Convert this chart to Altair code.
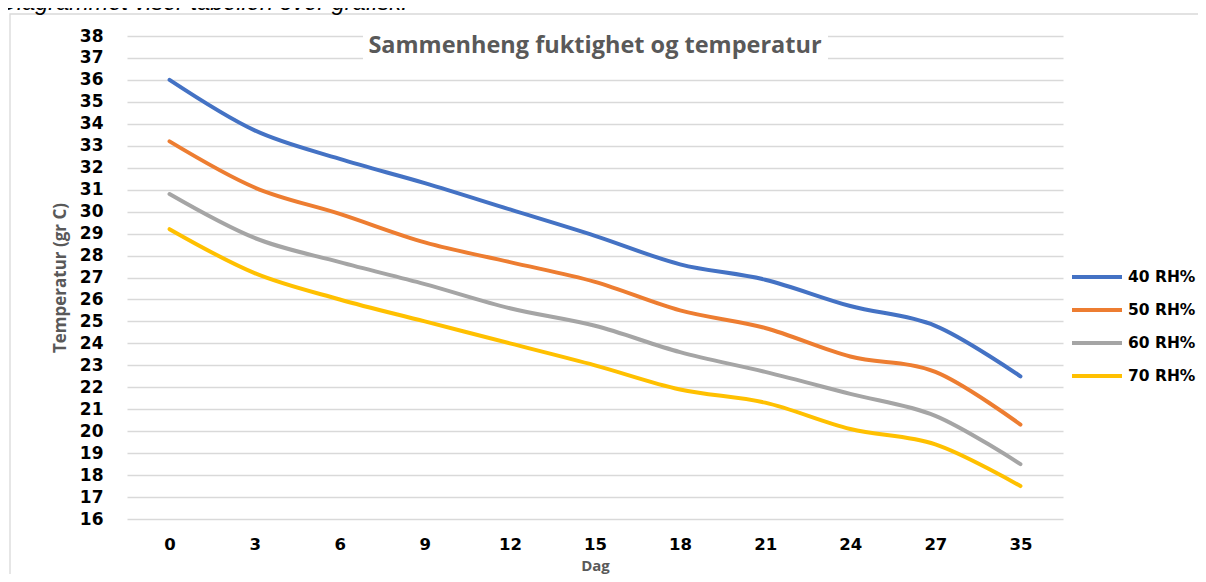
import altair as alt
import pandas as pd

days = ["0", "3", "6", "9", "12", "15", "18", "21", "24", "27", "35"]
rh40 = [36.0, 33.7, 32.4, 31.3, 30.1, 28.9, 27.6, 26.9, 25.7, 24.8, 22.5]
rh50 = [33.2, 31.1, 29.9, 28.6, 27.7, 26.8, 25.5, 24.7, 23.4, 22.7, 20.3]
rh60 = [30.8, 28.8, 27.7, 26.7, 25.6, 24.8, 23.6, 22.7, 21.7, 20.7, 18.5]
rh70 = [29.2, 27.2, 26.0, 25.0, 24.0, 23.0, 21.9, 21.3, 20.1, 19.4, 17.5]
series_names = ["40 RH%", "50 RH%", "60 RH%", "70 RH%"]
series_colors = ["#4472C4", "#ED7D31", "#A5A5A5", "#FFC000"]
y_ticks = list(range(16, 39))

title_text = "Sammenheng fuktighet og temperatur"
caption_text = "Diagrammet viser tabellen over grafisk."

rows = []
for name, vals in zip(series_names, [rh40, rh50, rh60, rh70]):
    for d, v in zip(days, vals):
        rows.append({"Dag": d, "Temp": v, "Serie": name})
df = pd.DataFrame(rows)

one = pd.DataFrame({"t": [title_text]})
cap = pd.DataFrame({"t": [caption_text]})

frame = alt.Chart(one).mark_rect(
    fillOpacity=0, stroke="#d9d9d9", strokeWidth=1.3
).encode(
    x=alt.value(-117), x2=alt.value(1078), y=alt.value(-22), y2=alt.value(570)
)

caption = alt.Chart(cap).mark_text(
    font="Liberation Sans", fontStyle="italic", fontSize=23.5, color="#000000",
    align="left", baseline="alphabetic"
).encode(x=alt.value(-127), y=alt.value(-26), text="t:N")

lines = alt.Chart(df).mark_line(
    interpolate="cardinal", strokeWidth=4, strokeCap="round"
).encode(
    x=alt.X("Dag:O", sort=days, title="Dag",
            axis=alt.Axis(labelAngle=0, grid=False, domain=False, ticks=False,
                          labelPadding=17, labelFont="DejaVu Sans",
                          labelFontWeight="bold", labelFontSize=16.5,
                          labelColor="#000000", titleFont="Open Sans",
                          titleFontWeight="bold", titleFontSize=15,
                          titleColor="#595959", titleY=51,
                          titleBaseline="alphabetic")),
    y=alt.Y("Temp:Q", title="Temperatur (gr C)",
            scale=alt.Scale(domain=[16, 38], nice=False, zero=False),
            axis=alt.Axis(values=y_ticks, grid=True, gridColor="#d9d9d9",
                          gridWidth=1.3, domain=False, ticks=False,
                          labelPadding=24, labelFont="DejaVu Sans",
                          labelFontWeight="bold", labelFontSize=17,
                          labelColor="#000000", titleFont="Open Sans",
                          titleFontWeight="bold", titleFontSize=17,
                          titleColor="#595959", titleX=-67, titleY=241.5,
                          titleBaseline="middle", titleAlign="center",
                          titleAngle=270)),
    color=alt.Color("Serie:N",
                    scale=alt.Scale(domain=series_names, range=series_colors),
                    legend=alt.Legend(orient="none", legendX=943, legendY=231,
                                      title=None, symbolType="stroke",
                                      symbolSize=2500, symbolStrokeWidth=4,
                                      clipHeight=20, rowPadding=13,
                                      labelFont="DejaVu Sans",
                                      labelFontWeight="bold",
                                      labelFontSize=15.5, labelColor="#000000",
                                      labelOffset=4)),
)

title_box = alt.Chart(one).mark_rect(fill="#ffffff", stroke=None).encode(
    x=alt.value(236), x2=alt.value(701), y=alt.value(-9), y2=alt.value(30)
)
title = alt.Chart(one).mark_text(
    font="Open Sans", fontWeight="bold", fontSize=23.5, color="#595959",
    align="center", baseline="middle"
).encode(x=alt.value(468), y=alt.value(10), text="t:N")

chart = alt.layer(frame, caption, lines, title_box, title).properties(
    width=936, height=483,
    autosize=alt.AutoSizeParams(type="none"),
    padding={"left": 119, "top": 28, "right": 135, "bottom": 55},
).configure_view(stroke=None)

chart.save("out.html", embed_options={"renderer": "svg", "actions": False})
